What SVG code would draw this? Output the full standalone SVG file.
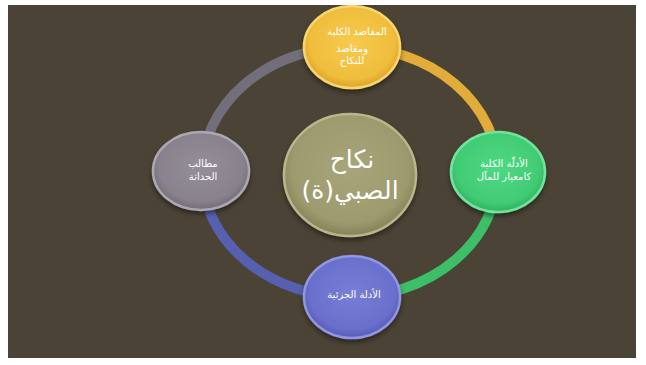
<svg xmlns="http://www.w3.org/2000/svg" width="646" height="365" viewBox="0 0 646 365">
<style>
.bg{fill:#4b4335}
.ring{fill:none;stroke-width:10;stroke-linecap:butt}
.node{stroke-width:2.5;filter:url(#sh)}
.lbl{fill:#ffffff;font-family:"DejaVu Sans",sans-serif;font-size:10px;text-anchor:middle;direction:rtl}
.big{fill:#ffffff;font-family:"DejaVu Sans",sans-serif;font-size:25px;text-anchor:middle;direction:rtl}
</style>
<defs>
<filter id="sh" x="-30%" y="-30%" width="160%" height="170%">
<feDropShadow dx="0" dy="3" stdDeviation="2.5" flood-color="#000" flood-opacity="0.45"/>
</filter>
<radialGradient id="gY" cx="50%" cy="45%" r="55%"><stop offset="0" stop-color="#f6cb4e"/><stop offset="0.8" stop-color="#f0bd3c"/><stop offset="1" stop-color="#dca22a"/></radialGradient>
<radialGradient id="gG" cx="50%" cy="45%" r="55%"><stop offset="0" stop-color="#4fd883"/><stop offset="0.8" stop-color="#41cc74"/><stop offset="1" stop-color="#30b05e"/></radialGradient>
<radialGradient id="gB" cx="50%" cy="45%" r="55%"><stop offset="0" stop-color="#777dd6"/><stop offset="0.8" stop-color="#6a70cc"/><stop offset="1" stop-color="#565bb6"/></radialGradient>
<radialGradient id="gR" cx="50%" cy="45%" r="55%"><stop offset="0" stop-color="#948f98"/><stop offset="0.8" stop-color="#87828c"/><stop offset="1" stop-color="#716c77"/></radialGradient>
<radialGradient id="gO" cx="50%" cy="45%" r="55%"><stop offset="0" stop-color="#a8a57a"/><stop offset="0.8" stop-color="#9d9a6e"/><stop offset="1" stop-color="#85825a"/></radialGradient>
</defs>
<rect x="0" y="0" width="646" height="365" fill="#ffffff"/>
<rect class="bg" x="8" y="5" width="628" height="353"/>
<g id="connectors">
<path class="ring" stroke="#e2ac3a" d="M350,47 A148,125 0 0 1 498,172"/>
<path class="ring" stroke="#3cbf67" d="M498,172 A148,125 0 0 1 350,297"/>
<path class="ring" stroke="#5760b0" d="M350,297 A148,125 0 0 1 202,172"/>
<path class="ring" stroke="#736e7c" d="M202,172 A148,125 0 0 1 350,47"/>
</g>
<g id="center">
<ellipse class="node" cx="350" cy="175" rx="66" ry="61" fill="url(#gO)" stroke="#b9b68c"/>
<text class="big" x="352" y="168">نكاح</text>
<text class="big" x="350" y="199">الصبي(ة)</text>
</g>
<g id="top">
<ellipse class="node" cx="352" cy="47" rx="48" ry="41" fill="url(#gY)" stroke="#f8d66e"/>
<text class="lbl" x="357" y="35">المقاصد الكلية</text>
<text class="lbl" x="352" y="52">ومقاصد</text>
<text class="lbl" x="352" y="64">للنكاح</text>
</g>
<g id="right">
<ellipse class="node" cx="498" cy="172" rx="47" ry="40" fill="url(#gG)" stroke="#72e39c"/>
<text class="lbl" x="504" y="167">الأدلّة الكلية</text>
<text class="lbl" x="504" y="180">كامعيار للمآل</text>
</g>
<g id="bottom">
<ellipse class="node" cx="352" cy="297" rx="48" ry="41" fill="url(#gB)" stroke="#9196e2"/>
<text class="lbl" x="354" y="298">الأدلة الجزئية</text>
</g>
<g id="left">
<ellipse class="node" cx="201" cy="171" rx="48" ry="39" fill="url(#gR)" stroke="#aca7b1"/>
<text class="lbl" x="203" y="167">مطالب</text>
<text class="lbl" x="203" y="180">الحداثة</text>
</g>
</svg>
